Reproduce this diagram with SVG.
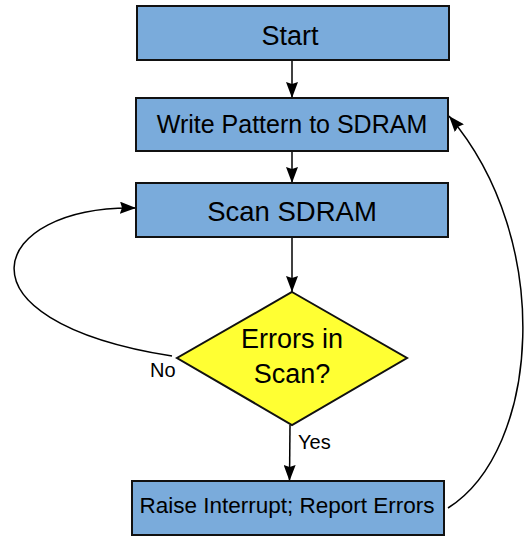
<svg xmlns="http://www.w3.org/2000/svg" width="524" height="536" viewBox="0 0 524 536">
  <defs>
    <marker id="arrow" viewBox="0 0 16 12" refX="16" refY="6" markerWidth="16" markerHeight="12" markerUnits="userSpaceOnUse" orient="auto">
      <path d="M0,0 L16,6 L0,12 L2,6 Z" fill="#000"/>
    </marker>
    <style>
      .box { fill: #7aabdb; stroke: #111; stroke-width: 2; }
      .decision { fill: #ffff33; stroke: #111; stroke-width: 2; }
      .label { font-family: "Liberation Sans", Arial, sans-serif; fill: #000; text-anchor: middle; }
      .edge { fill: none; stroke: #000; stroke-width: 1.5; marker-end: url(#arrow); }
      .edge-label { font-family: "Liberation Sans", Arial, sans-serif; font-size: 20px; fill: #000; }
    </style>
  </defs>

  <rect width="524" height="536" fill="#fff"/>

  <g id="connectors">
    <line class="edge" x1="292" y1="60" x2="292" y2="98"/>
    <line class="edge" x1="292" y1="151" x2="292" y2="183"/>
    <line class="edge" x1="292" y1="237" x2="292" y2="292"/>
    <line class="edge" x1="290" y1="425" x2="289.5" y2="481"/>
    <path class="edge" d="M172,356 C-55,320 -10,205 136,208"/>
    <path class="edge" d="M448,508 C540,450 555,240 449,116"/>
    <text class="edge-label" x="298" y="449">Yes</text>
    <text class="edge-label" x="150" y="377">No</text>
  </g>

  <g id="start">
    <rect class="box" x="137" y="6" width="312" height="54"/>
    <text class="label" x="290" y="45" font-size="27">Start</text>
  </g>

  <g id="write-pattern">
    <rect class="box" x="136" y="98" width="312" height="53"/>
    <text class="label" x="292" y="133" font-size="25">Write Pattern to SDRAM</text>
  </g>

  <g id="scan-sdram">
    <rect class="box" x="136" y="183" width="312" height="54"/>
    <text class="label" x="292" y="221" font-size="27.5">Scan SDRAM</text>
  </g>

  <g id="errors-decision">
    <polygon class="decision" points="292,292 407,358 292,425 177,358"/>
    <text class="label" x="292" y="348" font-size="27">Errors in</text>
    <text class="label" x="292" y="383" font-size="27">Scan?</text>
  </g>

  <g id="raise-interrupt">
    <rect class="box" x="132" y="481" width="312" height="54"/>
    <text class="label" x="287" y="513" font-size="22.5">Raise Interrupt; Report Errors</text>
  </g>
</svg>
